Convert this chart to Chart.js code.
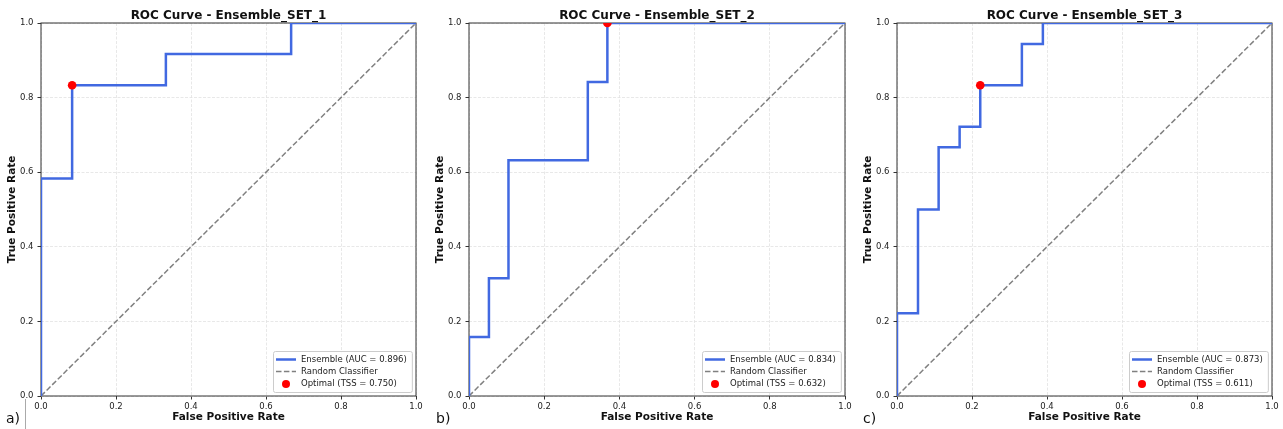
<!DOCTYPE html>
<html lang="en">
<head>
  <meta charset="UTF-8" />
  <title>ROC Curves - Ensemble Sets</title>
  <script src="https://cdn.jsdelivr.net/npm/chart.js"></script>
  <style>
    body { margin: 0; background: #fff; width: 1283px; height: 429px; overflow: hidden; position: relative; font-family: "DejaVu Sans", sans-serif; }
    .panel { position: absolute; top: 0; height: 429px; }
    .tag { position: absolute; top: 410px; font-size: 14px; line-height: 16px; color: #111; }
    .cursor { position: absolute; left: 25px; top: 399px; width: 1px; height: 30px; background: #aaa; }
  </style>
</head>
<body>
  <div class="panel" style="left:0;width:428px"><canvas id="roc1"></canvas></div>
  <div class="panel" style="left:428px;width:428px"><canvas id="roc2"></canvas></div>
  <div class="panel" style="left:856px;width:427px"><canvas id="roc3"></canvas></div>
  <div class="tag" style="left:6px">a)</div>
  <div class="cursor"></div>
  <div class="tag" style="left:436px">b)</div>
  <div class="tag" style="left:863px">c)</div>

  <script>
    // ---- data ----
    const titles = ['ROC Curve - Ensemble_SET_1', 'ROC Curve - Ensemble_SET_2', 'ROC Curve - Ensemble_SET_3'];

    const fpr1 = [0, 0, 0.083, 0.083, 0.333, 0.333, 0.667, 0.667, 1.0];
    const tpr1 = [0, 0.583, 0.583, 0.833, 0.833, 0.917, 0.917, 1.0, 1.0];

    const fpr2 = [0, 0, 0.053, 0.053, 0.105, 0.105, 0.316, 0.316, 0.368, 0.368, 1.0];
    const tpr2 = [0, 0.158, 0.158, 0.316, 0.316, 0.632, 0.632, 0.842, 0.842, 1.0, 1.0];

    const fpr3 = [0, 0, 0.056, 0.056, 0.111, 0.111, 0.167, 0.167, 0.222, 0.222, 0.333, 0.333, 0.389, 0.389, 1.0];
    const tpr3 = [0, 0.222, 0.222, 0.5, 0.5, 0.667, 0.667, 0.722, 0.722, 0.833, 0.833, 0.944, 0.944, 1.0, 1.0];

    const optimalFpr = [0.083, 0.368, 0.222];
    const optimalTpr = [0.833, 1.0, 0.833];
    const aucValues = ['0.896', '0.834', '0.873'];
    const tssValues = ['0.750', '0.632', '0.611'];

    const diagonal = [0, 1];
    const tickValues = [0, 0.2, 0.4, 0.6, 0.8, 1.0];
    const tickLabels = ['0.0', '0.2', '0.4', '0.6', '0.8', '1.0'];

    const FONT = '"DejaVu Sans", sans-serif';
    const BLUE = '#4169e1';

    function toPoints(xs, ys) {
      return xs.map((x, i) => ({ x: x, y: ys[i] }));
    }

    // frame round the plot area, like matplotlib spines
    const framePlugin = {
      id: 'frame',
      beforeDatasetsDraw(chart) {
        const { ctx, chartArea: a } = chart;
        ctx.save();
        ctx.strokeStyle = '#333';
        ctx.lineWidth = 1;
        ctx.strokeRect(a.left, a.top, a.right - a.left, a.bottom - a.top);
        ctx.restore();
      }
    };

    // title centred over the plot area (the built-in one centres over the canvas)
    const areaTitle = {
      id: 'areaTitle',
      afterDraw(chart, args, opts) {
        const { ctx, chartArea: a } = chart;
        ctx.save();
        ctx.font = 'bold 12px ' + FONT;
        ctx.fillStyle = '#111';
        ctx.textAlign = 'center';
        ctx.textBaseline = 'alphabetic';
        ctx.fillText(opts.text, (a.left + a.right) / 2, 18.5);
        ctx.restore();
      }
    };

    // legend in the lower right corner of the plot area
    const cornerLegend = {
      id: 'cornerLegend',
      afterDraw(chart, args, opts) {
        const { ctx, chartArea: a } = chart;
        const labels = opts.labels;
        ctx.save();
        ctx.font = '8.5px ' + FONT;
        const textW = Math.max(...labels.map(t => ctx.measureText(t).width));
        const w = 3 + 20 + 5 + textW + 5, h = 41;
        const x = Math.round(a.right - 4 - w), y = Math.round(a.bottom - 4 - h);

        ctx.fillStyle = 'rgba(255,255,255,0.85)';
        ctx.strokeStyle = '#cccccc';
        ctx.lineWidth = 1;
        ctx.beginPath();
        ctx.roundRect(x + 0.5, y + 0.5, w, h, 2);
        ctx.fill();
        ctx.stroke();

        const rows = [y + 8.5, y + 20.5, y + 33];
        const lx = x + 3;

        ctx.strokeStyle = BLUE;
        ctx.lineWidth = 2.5;
        ctx.beginPath(); ctx.moveTo(lx, rows[0]); ctx.lineTo(lx + 20, rows[0]); ctx.stroke();

        ctx.strokeStyle = '#808080';
        ctx.lineWidth = 1.5;
        ctx.setLineDash([5.5, 2.4]);
        ctx.beginPath(); ctx.moveTo(lx, rows[1]); ctx.lineTo(lx + 20, rows[1]); ctx.stroke();
        ctx.setLineDash([]);

        ctx.fillStyle = '#ff0000';
        ctx.beginPath(); ctx.arc(lx + 10, rows[2], 4, 0, Math.PI * 2); ctx.fill();

        ctx.fillStyle = '#222';
        ctx.textBaseline = 'middle';
        labels.forEach((t, i) => ctx.fillText(t, lx + 25, rows[i]));
        ctx.restore();
      }
    };

    function axis(title, isX) {
      return {
        type: 'linear',
        min: 0,
        max: 1,
        afterBuildTicks: s => { s.ticks = tickValues.map(v => ({ value: v })); },
        afterFit: s => { if (isX) s.height = 33; else s.width = 41; },
        ticks: {
          callback: (v, i) => tickLabels[i],
          color: '#222',
          font: { family: FONT, size: 8.5 },
          padding: isX ? 2 : 4,
          maxRotation: 0,
          autoSkip: false
        },
        grid: {
          color: '#e2e2e2',
          lineWidth: 0.8,
          borderDash: [3, 1.5],
          drawTicks: true,
          tickLength: 3.5,
          tickColor: '#333',
          tickWidth: 1,
          tickBorderDash: []
        },
        border: { display: false, dash: [3, 1.5] },
        title: {
          display: true,
          text: title,
          color: '#111',
          font: { family: FONT, size: 10.5, weight: 'bold' },
          padding: isX ? { top: 0, bottom: 5 } : { top: 5.5, bottom: 0 }
        }
      };
    }

    function renderRoc(canvasId, idx, fpr, tpr, rightPad) {
      const ctx = document.getElementById(canvasId).getContext('2d');
      return new Chart(ctx, {
        type: 'scatter',
        data: {
          datasets: [
            {
              label: 'Ensemble (AUC = ' + aucValues[idx] + ')',
              data: toPoints(fpr, tpr),
              showLine: true,
              borderColor: BLUE,
              borderWidth: 2.5,
              pointRadius: 0,
              order: 1
            },
            {
              label: 'Random Classifier',
              data: toPoints(diagonal, diagonal),
              showLine: true,
              borderColor: '#808080',
              borderWidth: 1.5,
              borderDash: [5.5, 2.4],
              pointRadius: 0,
              order: 2
            },
            {
              label: 'Optimal (TSS = ' + tssValues[idx] + ')',
              data: [{ x: optimalFpr[idx], y: optimalTpr[idx] }],
              backgroundColor: '#ff0000',
              borderWidth: 0,
              pointRadius: 4.3,
              clip: 0,
              order: 0
            }
          ]
        },
        options: {
          responsive: true,
          maintainAspectRatio: false,
          animation: false,
          layout: { padding: { left: 0, right: rightPad, top: 23, bottom: 0 } },
          plugins: {
            legend: { display: false },
            tooltip: { enabled: false },
            title: { display: false },
            areaTitle: { text: titles[idx] },
            cornerLegend: {
              labels: [
                'Ensemble (AUC = ' + aucValues[idx] + ')',
                'Random Classifier',
                'Optimal (TSS = ' + tssValues[idx] + ')'
              ]
            }
          },
          scales: {
            x: axis('False Positive Rate', true),
            y: axis('True Positive Rate', false)
          }
        },
        plugins: [framePlugin, areaTitle, cornerLegend]
      });
    }

    renderRoc('roc1', 0, fpr1, tpr1, 12);
    renderRoc('roc2', 1, fpr2, tpr2, 11);
    renderRoc('roc3', 2, fpr3, tpr3, 11);
  </script>
</body>
</html>
